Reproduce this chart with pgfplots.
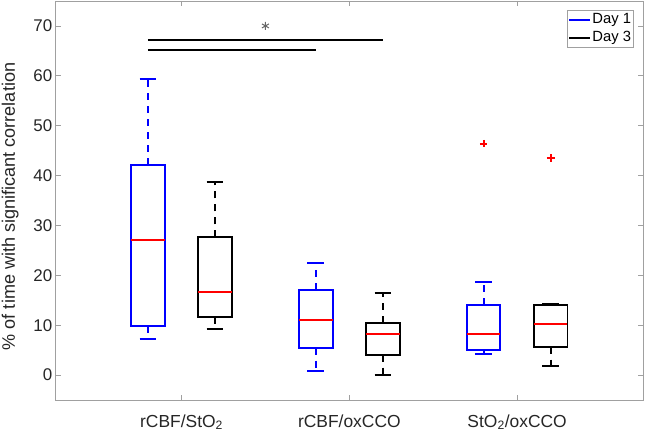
\documentclass[border=0pt]{standalone}
\usepackage{fontspec}
\setmainfont{Liberation Sans}
\usepackage{pgfplots}
\pgfplotsset{compat=1.18}
\usepgfplotslibrary{statistics}
\definecolor{axisgray}{RGB}{160,160,160}
\definecolor{mblue}{RGB}{0,0,255}
\definecolor{mred}{RGB}{255,0,0}
\begin{document}
\begin{tikzpicture}
\begin{axis}[
  scale only axis, width=587.3bp, height=399bp,
  xmin=0.25, xmax=3.75, ymin=-5, ymax=75,
  xtick={1,2,3},
  xticklabels={rCBF/StO\textsubscript{2}, rCBF/oxCCO, StO\textsubscript{2}/oxCCO},
  ytick={0,10,20,30,40,50,60,70},
  tick align=inside, major tick length=5bp,
  axis line style={draw=axisgray, line width=0.8bp},
  tick style={draw=axisgray, line width=0.8bp},
  /pgf/number format/assume math mode=true,
  tick label style={font=\fontsize{17}{20}\selectfont, text=black!85},
  xticklabel style={yshift=-11bp, font=\fontsize{17.5}{20}\selectfont},
  ylabel={\% of time with significant correlation},
  ylabel style={font=\fontsize{18.15}{21}\selectfont, text=black!85, at={(axis description cs:-0.0775,0.485)}, anchor=center},
  legend style={at={(1,1)}, xshift=-9bp, yshift=-9bp, anchor=north east, draw=axisgray, line width=0.8bp, fill=white,
    font=\fontsize{14.85}{17}\selectfont, inner xsep=1bp, inner ysep=1bp, row sep=0pt,
    nodes={inner xsep=1.5bp, inner ysep=2bp, text height=10.5bp, text depth=3bp}},
  legend cell align=left,
  legend image code/.code={\draw[#1] (0bp,0bp) -- (21bp,0bp);},
  boxplot/draw direction=y,
  boxplot/box extend=0.2,
  boxplot/whisker extend=0.1,
  boxplot/every median/.style={draw=mred, line width=1.9bp},
  boxplot/draw/lower whisker/.code={%
    \draw[dash pattern=on 7bp off 6bp] (boxplot box cs:\pgfplotsboxplotvalue{lower quartile},0.5) -- (boxplot box cs:\pgfplotsboxplotvalue{lower whisker},0.5);
    \draw[solid] (boxplot whisker cs:\pgfplotsboxplotvalue{lower whisker},0) -- (boxplot whisker cs:\pgfplotsboxplotvalue{lower whisker},1);},
  boxplot/draw/upper whisker/.code={%
    \draw[dash pattern=on 7bp off 6bp] (boxplot box cs:\pgfplotsboxplotvalue{upper quartile},0.5) -- (boxplot box cs:\pgfplotsboxplotvalue{upper whisker},0.5);
    \draw[solid] (boxplot whisker cs:\pgfplotsboxplotvalue{upper whisker},0) -- (boxplot whisker cs:\pgfplotsboxplotvalue{upper whisker},1);},
]
\addlegendimage{mblue, line width=1.9bp}
\addlegendentry{Day 1}
\addlegendimage{black, line width=1.9bp}
\addlegendentry{Day 3}

% Day 1 (blue)
\addplot[mblue, line width=1.9bp, boxplot prepared={draw position=0.8, lower whisker=7.2, lower quartile=9.8, median=27.0, upper quartile=42.2, upper whisker=59.4}] coordinates {};
\addplot[mblue, line width=1.9bp, boxplot prepared={draw position=1.8, lower whisker=0.8, lower quartile=5.5, median=11.0, upper quartile=17.1, upper whisker=22.4}] coordinates {};
\addplot[mblue, line width=1.9bp, boxplot prepared={draw position=2.8, lower whisker=4.3, lower quartile=5.0, median=8.2, upper quartile=14.1, upper whisker=18.7}] coordinates {};
% Day 3 (black)
\addplot[black, line width=1.9bp, boxplot prepared={draw position=1.2, lower whisker=9.2, lower quartile=11.6, median=16.6, upper quartile=27.6, upper whisker=38.7}] coordinates {};
\addplot[black, line width=1.9bp, boxplot prepared={draw position=2.2, lower whisker=0.0, lower quartile=4.1, median=8.3, upper quartile=10.5, upper whisker=16.5}] coordinates {};
\addplot[black, line width=1.9bp, boxplot prepared={draw position=3.2, lower whisker=1.9, lower quartile=5.7, median=10.3, upper quartile=14.1, upper whisker=14.3}] coordinates {};

% outliers
\addplot[only marks, mark=+, draw=mred, color=mred, mark size=3.8bp, mark options={solid, line width=2bp, draw=mred}] coordinates {(2.8,46.4)};
\addplot[only marks, mark=+, draw=mred, color=mred, mark size=3.8bp, mark options={solid, line width=2bp, draw=mred}] coordinates {(3.2,43.5)};

% significance
\addplot[black, line width=2.2bp] coordinates {(0.8,67.1) (2.2,67.1)};
\addplot[black, line width=2.2bp] coordinates {(0.8,65.1) (1.8,65.1)};
\addplot[only marks, mark=asterisk, black!60, mark size=4bp, mark options={line width=1bp}] coordinates {(1.5,70)};
\end{axis}
\pgfresetboundingbox
\path[use as bounding box] ([xshift=-55.7bp,yshift=-32bp]current axis.south west) rectangle ([xshift=2bp,yshift=1bp]current axis.north east);
\end{tikzpicture}
\end{document}
